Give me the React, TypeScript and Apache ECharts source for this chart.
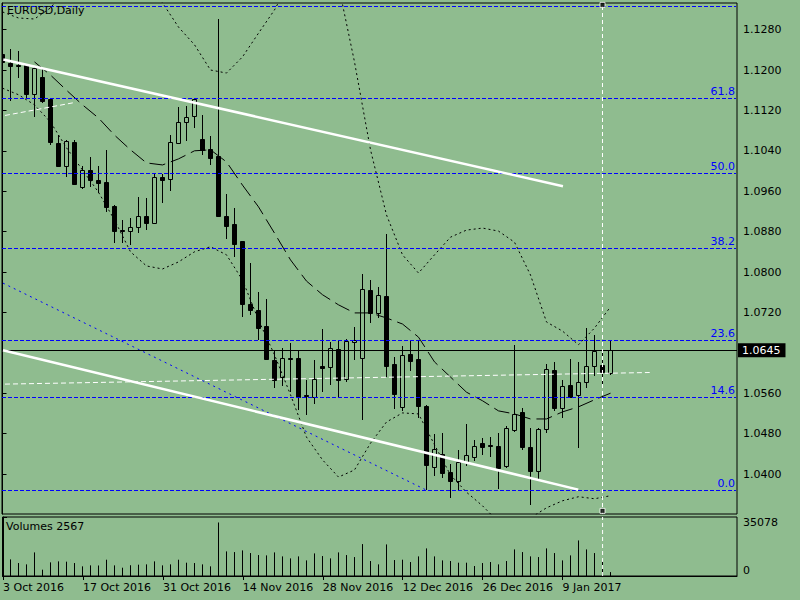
import React, { useEffect, useRef } from "react";
import * as echarts from "echarts";

const FONT = "DejaVu Sans";
const BG = "#8fbc8f";

const symbolTitle = "EURUSD,Daily";
const volumeTitle = "Volumes 2567";

// Daily OHLC, 3 Oct 2016 (bar 0) .. 17 Jan 2017 (bar 76)
const openPrices = [
  1.1232, 1.1214, 1.1209, 1.1209, 1.1152, 1.1186, 1.1142, 1.1055, 1.1009, 1.1057,
  1.0968, 1.1002, 1.0982, 1.0978, 1.0931, 1.0884, 1.0882, 1.089, 1.0911, 1.0897,
  1.0989, 1.0984, 1.1056, 1.1098, 1.1109, 1.1063, 1.1043, 1.103, 1.0911, 1.0895,
  1.0861, 1.0737, 1.0724, 1.0693, 1.0626, 1.0593, 1.0629, 1.063, 1.0556, 1.0553,
  1.0614, 1.0611, 1.0647, 1.0588, 1.0661, 1.0629, 1.0764, 1.0718, 1.0753, 1.0618,
  1.0533, 1.0638, 1.0628, 1.0535, 1.0413, 1.0439, 1.0403, 1.0387, 1.0424, 1.0434,
  1.0461, 1.0457, 1.0456, 1.0415, 1.0487, 1.0523, 1.0454, 1.0405, 1.0489, 1.0606,
  1.053, 1.0576, 1.0556, 1.0583, 1.0614, 1.0616, 1.0601,
];
const highPrices = [
  1.124, 1.1241, 1.1237, 1.1212, 1.1208, 1.1204, 1.1145, 1.1071, 1.1061, 1.1061,
  1.101, 1.1028, 1.1009, 1.1042, 1.0932, 1.0903, 1.0907, 1.0949, 1.0947, 1.0995,
  1.0994, 1.1071, 1.1127, 1.1128, 1.1144, 1.1111, 1.1069, 1.1302, 1.0954, 1.0926,
  1.0862, 1.0817, 1.076, 1.0746, 1.0646, 1.0649, 1.0659, 1.0646, 1.0587, 1.0626,
  1.0687, 1.0661, 1.0665, 1.0667, 1.0691, 1.0797, 1.0784, 1.077, 1.0875, 1.0632,
  1.0654, 1.0665, 1.0665, 1.0537, 1.0479, 1.0481, 1.042, 1.0448, 1.05, 1.0467,
  1.0472, 1.0473, 1.0481, 1.0495, 1.0656, 1.053, 1.0491, 1.0492, 1.0618, 1.0622,
  1.0586, 1.0627, 1.0621, 1.0689, 1.0676, 1.0641, 1.0666,
];
const lowPrices = [
  1.12, 1.1139, 1.1184, 1.1143, 1.1107, 1.1135, 1.1052, 1.1007, 1.0988, 1.0972,
  1.0965, 1.0968, 1.0956, 1.0919, 1.0858, 1.0857, 1.0854, 1.0877, 1.0883, 1.0896,
  1.0937, 1.0961, 1.1053, 1.106, 1.1085, 1.1032, 1.1011, 1.0908, 1.0865, 1.083,
  1.0711, 1.0714, 1.0665, 1.0625, 1.057, 1.0574, 1.0562, 1.0527, 1.0517, 1.0539,
  1.0562, 1.0576, 1.055, 1.0583, 1.0626, 1.0507, 1.07, 1.0709, 1.0593, 1.0529,
  1.0525, 1.0603, 1.0511, 1.0368, 1.0396, 1.0392, 1.0352, 1.0368, 1.0415, 1.0426,
  1.0438, 1.0434, 1.037, 1.0411, 1.0484, 1.0448, 1.0339, 1.0388, 1.0481, 1.0525,
  1.051, 1.0551, 1.0452, 1.0571, 1.0595, 1.0579, 1.0596,
];
const closePrices = [
  1.1216, 1.1207, 1.1207, 1.1152, 1.1203, 1.1139, 1.1057, 1.1009, 1.1059, 1.0974,
  1.1002, 1.0982, 1.0976, 1.0929, 1.0881, 1.0882, 1.0889, 1.0911, 1.0897, 1.0988,
  1.0982, 1.1058, 1.1098, 1.1106, 1.1142, 1.1041, 1.1026, 1.091, 1.0891, 1.0856,
  1.0737, 1.0724, 1.069, 1.0627, 1.0586, 1.0629, 1.0628, 1.0553, 1.0554, 1.0588,
  1.061, 1.0649, 1.0586, 1.0664, 1.0665, 1.0766, 1.0718, 1.0755, 1.0614, 1.0559,
  1.0636, 1.0624, 1.0535, 1.0418, 1.0449, 1.0401, 1.0387, 1.0424, 1.0438, 1.0455,
  1.0453, 1.0455, 1.0411, 1.0492, 1.0519, 1.0453, 1.0405, 1.0489, 1.0607, 1.053,
  1.0574, 1.0553, 1.0582, 1.0614, 1.0644, 1.0602, 1.0645,
];
const volumes = [
  12420, 10895, 8498, 7626, 15471, 4140, 8934, 9588, 9400, 8498,
  6319, 6973, 6900, 10677, 6973, 5448, 7050, 7409, 7626, 9588,
  6973, 7626, 10677, 8716, 8498, 7626, 6319, 35078, 16125, 15689,
  16778, 15035, 13728, 13510, 15471, 12856, 11549, 12856, 10241, 14817,
  13074, 11549, 15471, 13728, 12420, 20918, 9806, 7626, 20700, 10459,
  10677, 9152, 12856, 18086, 12856, 10241, 9806, 8716, 8716, 6537,
  8498, 9152, 7626, 9806, 17432, 15689, 12856, 12420, 18086, 15035,
  10241, 13510, 23315, 17432, 15035, 9806, 2567,
];

// Indicator lines read at every second bar
const bandBars = [
  0, 2, 4, 6, 8, 10, 12, 14, 16, 18, 20, 22, 24, 26, 28, 30, 32, 34, 36, 38,
  40, 42, 44, 46, 48, 50, 52, 54, 56, 58, 60, 62, 64, 66, 68, 70, 72, 74, 76,
];
const upperBand = [
  1.1315, 1.1303, 1.1301, 1.1323, 1.1362, 1.1398, 1.1418, 1.1418, 1.1398, 1.1368,
  1.1333, 1.1285, 1.125, 1.12, 1.1194, 1.1226, 1.1273, 1.1319, 1.1378, 1.1408,
  1.1398, 1.1368, 1.1216, 1.1042, 1.0913, 1.0834, 1.0798, 1.0834, 1.0869, 1.0883,
  1.0887, 1.0881, 1.0859, 1.0794, 1.0701, 1.0683, 1.0656, 1.0689, 1.0731,
];
const lowerBand = [
  1.1164, 1.1151, 1.1131, 1.1097, 1.1046, 1.1002, 1.0958, 1.0903, 1.084, 1.0812,
  1.0806, 1.082, 1.084, 1.085, 1.0834, 1.0784, 1.0705, 1.0636, 1.0557, 1.0473,
  1.0428, 1.0394, 1.0408, 1.0461, 1.0503, 1.0521, 1.0519, 1.0458, 1.0398, 1.0364,
  1.0337, 1.0305, 1.0293, 1.0313, 1.0333, 1.0347, 1.0355, 1.0351, 1.0357,
];
const maBars = [
  4, 6, 8, 10, 12, 14, 16, 18, 20, 22, 24, 26, 28, 30, 32, 34, 36, 38, 40, 42,
  44, 46, 48, 50, 52, 54, 56, 58, 60, 62, 64, 66, 68, 70, 72, 74, 76,
];
const maValues = [
  1.1216, 1.119, 1.116, 1.1131, 1.1105, 1.1071, 1.1042, 1.1016, 1.1012, 1.1024,
  1.104, 1.1042, 1.1018, 1.0972, 1.0929, 1.0877, 1.0824, 1.0782, 1.0755, 1.0735,
  1.0719, 1.0719, 1.0709, 1.0697, 1.0671, 1.0622, 1.0592, 1.0562, 1.0545, 1.0525,
  1.0519, 1.0509, 1.0509, 1.0523, 1.0533, 1.0547, 1.056,
];

// Objects: [bar, price] end points
const upperTrend = [[0.1, 1.1221], [70.06, 1.097]];
const lowerTrend = [[0.06, 1.0645], [71.97, 1.0369]];
const fibTrend = [[0.06, 1.0778], [53, 1.0368]];
const whiteDashA = [[0.31, 1.111], [8.8, 1.1135]];
const whiteDashB = [[0.31, 1.0578], [80.9, 1.0601]];
const fibLow = 1.0368;
const fibHigh = 1.1622;
const fibLevels = [0, 14.6, 23.6, 38.2, 50, 61.8, 76.4];
const fibLabels = ["0.0", "14.6", "23.6", "38.2", "50.0", "61.8", ""];
const bidPrice = 1.0645;
const markerBar = 75;
const markerPrices = [1.1329, 1.0327];

const priceTicks = [1.04, 1.048, 1.056, 1.072, 1.08, 1.088, 1.096, 1.104, 1.112, 1.12, 1.128];
const dateTickBars = [0, 10, 20, 30, 40, 50, 60, 70];
const dateTickLabels = [
  "3 Oct 2016", "17 Oct 2016", "31 Oct 2016", "14 Nov 2016",
  "28 Nov 2016", "12 Dec 2016", "26 Dec 2016", "9 Jan 2017",
];
const volumeLabelValues = [0, 35078];

const X_MIN = -0.0625;
const X_MAX = 91.8125;
const Y_MIN = 1.03208;
const Y_MAX = 1.13327;
const VOL_MAX = 38670;

const txt = { fontFamily: FONT, fontSize: 11, color: "#000" };

function buildOption() {
  const candleData = openPrices.map((o, i) => [i, o, highPrices[i], lowPrices[i], closePrices[i]]);
  const volData = volumes.map((v, i) => [i, v]);
  const fibData = fibLevels.map((lv, k) => [lv, fibLow + ((fibHigh - fibLow) * lv) / 100, k]);

  const candleRender = (params: any, api: any) => {
    const i = api.value(0);
    const o = api.value(1);
    const h = api.value(2);
    const l = api.value(3);
    const c = api.value(4);
    const pO = api.coord([i, o]);
    const pH = api.coord([i, h]);
    const pL = api.coord([i, l]);
    const pC = api.coord([i, c]);
    const x = Math.floor(pO[0]) + 0.5;
    const top = Math.round(Math.min(pO[1], pC[1]));
    const bot = Math.round(Math.max(pO[1], pC[1]));
    const bull = c >= o;
    const children: any[] = [
      {
        type: "line",
        shape: { x1: x, y1: Math.round(pH[1]), x2: x, y2: Math.round(pL[1]) },
        style: { stroke: "#000", lineWidth: 1 },
      },
    ];
    if (bot - top < 1) {
      children.push({
        type: "line",
        shape: { x1: x - 2.5, y1: top + 0.5, x2: x + 2.5, y2: top + 0.5 },
        style: { stroke: "#000", lineWidth: 1 },
      });
    } else {
      children.push({
        type: "rect",
        shape: { x: x - 2, y: top + 0.5, width: 4, height: bot - top },
        style: { fill: bull ? BG : "#000", stroke: "#000", lineWidth: 1 },
      });
    }
    return { type: "group", children };
  };

  const volRender = (params: any, api: any) => {
    const p0 = api.coord([api.value(0), 0]);
    const p1 = api.coord([api.value(0), api.value(1)]);
    const x = Math.floor(p0[0]) + 0.5;
    return {
      type: "line",
      shape: { x1: x, y1: p0[1], x2: x, y2: p1[1] },
      style: { stroke: "#000", lineWidth: 1 },
    };
  };

  const fibRender = (params: any, api: any) => {
    const price = api.value(1);
    const k = api.value(2);
    const pt = api.coord([X_MIN, price]);
    const y = Math.floor(pt[1]) + 0.5;
    const cs = params.coordSys;
    const x0 = cs.x;
    const x1 = cs.x + cs.width;
    const children: any[] = [
      {
        type: "line",
        shape: { x1: x0, y1: y, x2: x1 - 1, y2: y },
        style: { stroke: "#0000ff", lineWidth: 1, lineDash: [4, 2] },
      },
    ];
    const label = fibLabels[k];
    if (label) {
      children.push({
        type: "text",
        x: x1 - 2,
        y: y - 2,
        style: {
          text: label,
          fill: "#0000ff",
          fontFamily: FONT,
          fontSize: 11,
          align: "right",
          verticalAlign: "bottom",
        },
      });
    }
    return { type: "group", children };
  };

  const lineBase = {
    type: "line",
    xAxisIndex: 0,
    yAxisIndex: 0,
    symbol: "none",
    showSymbol: false,
    silent: true,
    clip: true,
  };

  return {
    animation: false,
    backgroundColor: BG,
    textStyle: { fontFamily: FONT },
    title: [
      { text: symbolTitle, left: 7, top: 5, padding: 0, textStyle: { ...txt, fontWeight: "normal" } },
      { text: volumeTitle, left: 6, top: 521, padding: 0, textStyle: { ...txt, fontWeight: "normal" } },
    ],
    grid: [
      { left: 2, top: 3, width: 735, height: 511, show: true, borderColor: "#000", borderWidth: 1, backgroundColor: "transparent" },
      { left: 2, top: 517, width: 735, height: 59, show: true, borderColor: "#000", borderWidth: 1, backgroundColor: "transparent" },
    ],
    xAxis: [
      { type: "value", gridIndex: 0, min: X_MIN, max: X_MAX, show: false },
      {
        type: "value",
        gridIndex: 1,
        min: X_MIN,
        max: X_MAX,
        splitLine: { show: false },
        axisLine: { show: true, lineStyle: { color: "#000", width: 1 } },
        axisTick: { show: true, customValues: dateTickBars, length: 4, lineStyle: { color: "#000" } },
        axisLabel: {
          ...txt,
          customValues: dateTickBars,
          align: "left",
          margin: 6,
          formatter: (v: number) => dateTickLabels[dateTickBars.indexOf(Math.round(v))] || "",
        },
      },
    ],
    yAxis: [
      {
        type: "value",
        gridIndex: 0,
        position: "right",
        min: Y_MIN,
        max: Y_MAX,
        splitLine: { show: false },
        axisLine: { show: true, lineStyle: { color: "#000", width: 1 } },
        axisTick: { show: true, customValues: priceTicks, length: 4, lineStyle: { color: "#000" } },
        axisLabel: { ...txt, customValues: priceTicks, margin: 6, formatter: (v: number) => v.toFixed(4) },
      },
      {
        type: "value",
        gridIndex: 1,
        position: "right",
        min: 0,
        max: VOL_MAX,
        splitLine: { show: false },
        axisLine: { show: true, lineStyle: { color: "#000", width: 1 } },
        axisTick: { show: true, customValues: [0, VOL_MAX], length: 4, lineStyle: { color: "#000" } },
        axisLabel: {
          ...txt,
          customValues: volumeLabelValues,
          margin: 6,
          verticalAlignMinLabel: "bottom",
          formatter: (v: number) => String(Math.round(v)),
        },
      },
    ],
    series: [
      {
        type: "custom",
        name: "candles",
        xAxisIndex: 0,
        yAxisIndex: 0,
        data: candleData,
        encode: { x: 0, y: [1, 2, 3, 4] },
        renderItem: candleRender,
        clip: true,
        silent: true,
        z: 2,
        markLine: {
          silent: true,
          precision: 6,
          symbol: ["none", "none"],
          animation: false,
          data: [
            {
              yAxis: bidPrice,
              lineStyle: { color: "#000", type: "solid", width: 1 },
              label: {
                show: true,
                position: "end",
                formatter: bidPrice.toFixed(4),
                backgroundColor: "#000",
                color: "#fff",
                fontFamily: FONT,
                fontSize: 11,
                padding: [2, 5, 1, 4],
                distance: 1,
              },
            },
          ],
        },
      },
      {
        type: "custom",
        name: "volumes",
        xAxisIndex: 1,
        yAxisIndex: 1,
        data: volData,
        encode: { x: 0, y: 1 },
        renderItem: volRender,
        clip: true,
        silent: true,
        z: 2,
      },
      {
        ...lineBase,
        name: "ma",
        data: maBars.map((b, k) => [b, maValues[k]]),
        lineStyle: { color: "#000", width: 1, type: [16, 6] },
        z: 3,
      },
      {
        ...lineBase,
        name: "upper",
        data: bandBars.map((b, k) => [b, upperBand[k]]),
        lineStyle: { color: "#000", width: 1, type: [2, 3] },
        z: 3,
      },
      {
        ...lineBase,
        name: "lower",
        data: bandBars.map((b, k) => [b, lowerBand[k]]),
        lineStyle: { color: "#000", width: 1, type: [2, 3] },
        z: 3,
      },
      {
        type: "custom",
        name: "fibLevels",
        xAxisIndex: 0,
        yAxisIndex: 0,
        data: fibData,
        encode: { y: 1 },
        renderItem: fibRender,
        clip: false,
        silent: true,
        z: 4,
      },
      {
        ...lineBase,
        name: "fibTrend",
        data: fibTrend,
        lineStyle: { color: "#0000ff", width: 1, type: [2, 4] },
        z: 4,
      },
      {
        ...lineBase,
        name: "whiteDashA",
        data: whiteDashA,
        lineStyle: { color: "#fff", width: 1, type: [5, 3] },
        z: 5,
      },
      {
        ...lineBase,
        name: "whiteDashB",
        data: whiteDashB,
        lineStyle: { color: "#fff", width: 1, type: [5, 3] },
        z: 5,
      },
      {
        ...lineBase,
        name: "upperTrend",
        data: upperTrend,
        lineStyle: { color: "#fff", width: 2.5, type: "solid" },
        z: 5,
      },
      {
        ...lineBase,
        name: "lowerTrend",
        data: lowerTrend,
        lineStyle: { color: "#fff", width: 2.5, type: "solid" },
        z: 5,
      },
      {
        ...lineBase,
        name: "vline",
        data: [[markerBar, Y_MIN], [markerBar, Y_MAX]],
        lineStyle: { color: "#fff", width: 1, type: [4, 3] },
        z: 5,
      },
      {
        ...lineBase,
        name: "vlineVol",
        xAxisIndex: 1,
        yAxisIndex: 1,
        data: [[markerBar, 0], [markerBar, VOL_MAX]],
        lineStyle: { color: "#fff", width: 1, type: [4, 3] },
        z: 5,
      },
      {
        type: "scatter",
        name: "markers",
        xAxisIndex: 0,
        yAxisIndex: 0,
        silent: true,
        symbol: "rect",
        symbolSize: 5,
        data: markerPrices.map((p) => [markerBar, p]),
        itemStyle: { color: "#000", borderColor: "#fff", borderWidth: 1 },
        z: 6,
      },
    ],
  };
}

export default function App() {
  const ref = useRef<HTMLDivElement>(null);
  useEffect(() => {
    if (!ref.current) return;
    const chart = echarts.init(ref.current, null, { renderer: "svg" });
    chart.setOption(buildOption() as any);
    return () => chart.dispose();
  }, []);
  return (
    <div
      ref={ref}
      style={{ position: "fixed", left: 0, top: 0, width: 800, height: 600 }}
    />
  );
}
